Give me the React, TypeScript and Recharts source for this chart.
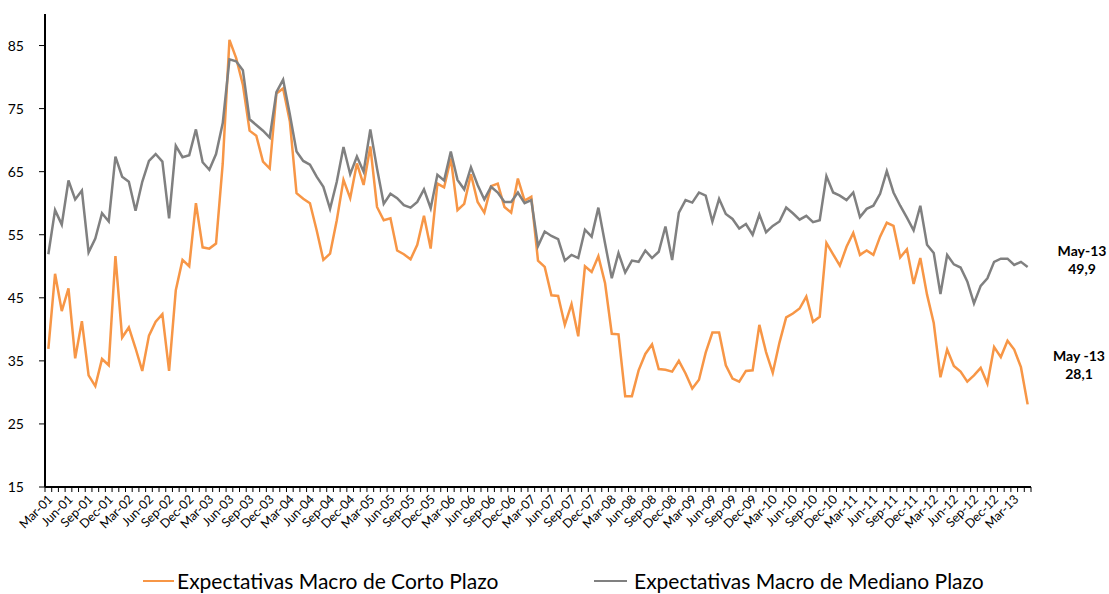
import React from "react";
import { LineChart, Line, XAxis, YAxis } from "recharts";

const MONTHS = ["Jan", "Feb", "Mar", "Apr", "May", "Jun", "Jul", "Aug", "Sep", "Oct", "Nov", "Dec"];

// Mar-01 ... May-13, one point per month
const categories: string[] = [];
for (let i = 0; i < 147; i++) {
  const m = (2 + i) % 12;
  const yr = 1 + Math.floor((2 + i) / 12);
  categories.push(`${MONTHS[m]}-${String(yr).padStart(2, "0")}`);
}

const corto = [
  36.9, 48.8, 42.9, 46.5, 35.4, 41.3, 32.7, 31.0, 35.3, 34.3, 51.6, 38.7,
  40.3, 37.0, 33.4, 39.0, 41.2, 42.4, 33.4, 46.2, 51.0, 50.0, 60.0, 53.0,
  52.8, 53.6, 66.3, 85.9, 83.0, 78.8, 71.5, 70.7, 66.6, 65.5, 77.4, 78.2,
  73.0, 61.6, 60.7, 60.0, 55.7, 51.0, 52.0, 57.3, 63.7, 60.8, 66.3, 62.9,
  69.0, 59.4, 57.3, 57.6, 52.5, 51.9, 51.1, 53.4, 58.0, 52.8, 63.1, 62.5,
  67.1, 58.9, 59.9, 64.6, 60.2, 58.5, 62.7, 63.1, 59.4, 58.5, 63.9, 60.4,
  61.0, 50.9, 49.9, 45.4, 45.3, 40.7, 44.0, 38.9, 50.0, 49.1, 51.6, 47.3,
  39.3, 39.2, 29.4, 29.4, 33.5, 36.1, 37.6, 33.7, 33.6, 33.3, 35.0, 33.0,
  30.6, 32.0, 36.3, 39.5, 39.5, 34.3, 32.2, 31.7, 33.4, 33.5, 40.7, 36.4,
  33.1, 37.9, 41.9, 42.5, 43.3, 45.2, 41.2, 42.0, 53.7, 51.9, 50.1, 53.1,
  55.3, 51.8, 52.5, 51.8, 54.7, 56.9, 56.4, 51.4, 52.7, 47.2, 51.3, 45.5,
  41.0, 32.4, 36.8, 34.2, 33.3, 31.7, 32.7, 33.9, 31.4, 37.2, 35.6, 38.2,
  36.8, 34.0, 28.1,
];

const mediano = [
  51.9, 58.9, 56.6, 63.6, 60.6, 62.0, 52.2, 54.4, 58.4, 57.1, 67.4, 64.2,
  63.4, 58.8, 63.4, 66.7, 67.8, 66.6, 57.6, 69.1, 67.3, 67.6, 71.7, 66.5,
  65.3, 67.8, 72.7, 82.8, 82.5, 81.1, 73.3, 72.4, 71.5, 70.4, 77.6, 79.6,
  74.1, 68.2, 66.7, 66.1, 64.2, 62.6, 59.1, 63.4, 68.9, 64.6, 67.4, 65.0,
  71.7, 65.5, 59.9, 61.5, 60.8, 59.7, 59.3, 60.2, 62.2, 59.2, 64.5, 63.6,
  68.2, 63.7, 62.2, 65.7, 62.9, 60.6, 62.6, 61.7, 60.2, 60.2, 61.7, 60.0,
  60.5, 53.2, 55.5, 54.8, 54.3, 50.9, 51.8, 51.3, 55.8, 54.7, 59.3, 53.6,
  48.1, 52.1, 49.0, 50.9, 50.7, 52.5, 51.3, 52.3, 56.3, 51.0, 58.5, 60.5,
  60.1, 61.7, 61.2, 57.1, 60.7, 58.3, 57.5, 56.0, 56.7, 55.0, 58.2, 55.4,
  56.4, 57.1, 59.3, 58.4, 57.4, 58.0, 57.0, 57.3, 64.3, 61.7, 61.2, 60.5,
  61.7, 57.8, 59.1, 59.6, 61.5, 65.1, 61.7, 59.6, 57.7, 55.7, 59.6, 53.4,
  52.1, 45.6, 51.8, 50.3, 49.8, 47.6, 44.1, 46.9, 48.1, 50.7, 51.2, 51.2,
  50.2, 50.7, 49.9,
];

const yTicks = [15, 25, 35, 45, 55, 65, 75, 85];

const data = categories.map((label, i) => ({
  label,
  corto: corto[i],
  mediano: mediano[i],
}));

const ORANGE = "#F79646";
const GRAY = "#808080";
const FONT = "Lato, 'Open Sans', sans-serif";
const STEP = 986 / 147;

const fmt = (v: number) => v.toFixed(1).replace(".", ",");

function MonthTick(props: any) {
  const { x, y, index } = props;
  const bx = x - STEP / 2;
  const isLast = index === categories.length - 1;
  return (
    <g>
      <line x1={bx} x2={bx} y1={y} y2={y + 5} stroke="#000" strokeWidth={1} />
      {isLast && <line x1={x + STEP / 2} x2={x + STEP / 2} y1={y} y2={y + 5} stroke="#000" strokeWidth={1} />}
      {index % 3 === 0 && (
        <text
          x={x + 2}
          y={y + 10}
          transform={`rotate(-45 ${x + 2} ${y + 10})`}
          textAnchor="end"
          dy="0.35em"
          fontSize={12.5}
          fontFamily={FONT}
          fill="#000"
        >
          {props.payload.value}
        </text>
      )}
    </g>
  );
}

export default function App() {
  const lastCorto = corto[corto.length - 1];
  const lastMediano = mediano[mediano.length - 1];
  return (
    <div style={{ position: "absolute", left: 0, top: 0, width: 1109, height: 594, background: "#fff", fontFamily: FONT }}>
      <LineChart width={1109} height={594} data={data} margin={{ top: 14, right: 78, bottom: 0, left: 0 }}>
        <XAxis
          dataKey="label"
          interval={0}
          height={107}
          tickSize={0}
          tickMargin={0}
          tickLine={false}
          tick={<MonthTick />}
          padding={{ left: STEP / 2, right: STEP / 2 }}
          axisLine={{ stroke: "#000", strokeWidth: 2 }}
        />
        <YAxis
          width={45}
          domain={[15, 90]}
          ticks={yTicks}
          allowDataOverflow
          tickSize={6}
          tickMargin={15}
          axisLine={{ stroke: "#000", strokeWidth: 2 }}
          tickLine={{ stroke: "#000", strokeWidth: 1 }}
          tick={{ fontSize: 14, fontFamily: FONT, fill: "#000" }}
        />
        <Line type="linear" dataKey="corto" stroke={ORANGE} strokeWidth={2.5} dot={false} isAnimationActive={false} />
        <Line type="linear" dataKey="mediano" stroke={GRAY} strokeWidth={2.5} dot={false} isAnimationActive={false} />
      </LineChart>

      {/* end labels */}
      <div style={{ position: "absolute", left: 1042, top: 242, width: 80, textAlign: "center", fontWeight: 700, fontSize: 14, lineHeight: "18px" }}>
        <div>May-13</div>
        <div>{fmt(lastMediano)}</div>
      </div>
      <div style={{ position: "absolute", left: 1039, top: 347, width: 80, textAlign: "center", fontWeight: 700, fontSize: 14, lineHeight: "18px" }}>
        <div>May -13</div>
        <div>{fmt(lastCorto)}</div>
      </div>

      {/* legend */}
      <div style={{ position: "absolute", left: 143, top: 568, display: "flex", alignItems: "center", fontSize: 21, lineHeight: "26px" }}>
        <span style={{ width: 31, height: 2, background: ORANGE, display: "inline-block", marginRight: 3 }} />
        <span>Expectativas Macro de Corto Plazo</span>
      </div>
      <div style={{ position: "absolute", left: 594, top: 568, display: "flex", alignItems: "center", fontSize: 21, lineHeight: "26px" }}>
        <span style={{ width: 33, height: 2, background: GRAY, display: "inline-block", marginRight: 7 }} />
        <span>Expectativas Macro de Mediano Plazo</span>
      </div>
    </div>
  );
}
